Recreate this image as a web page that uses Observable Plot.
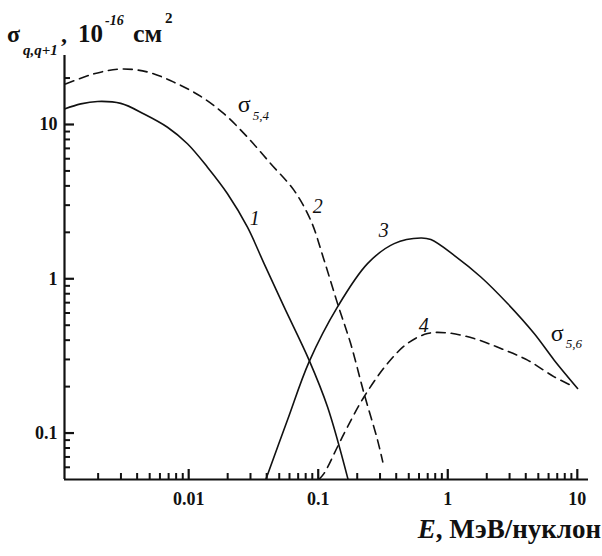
<!DOCTYPE html>
<html><head><meta charset="utf-8">
<script src="https://cdn.jsdelivr.net/npm/d3@7"></script>
<script src="https://cdn.jsdelivr.net/npm/@observablehq/plot@0.6"></script>
<style>
body{margin:0;background:#fff;}
#wrap{position:relative;width:602px;height:556px;}
</style></head><body><div id="wrap"></div>
<script>
// axis domains and tick values
const xDomain = [0.0011, 12.2];
const yDomain = [0.05, 28];
const xMajor = [0.01, 0.1, 1, 10];
const xMinor = [0.002,0.003,0.004,0.005,0.006,0.007,0.008,0.009,
  0.02,0.03,0.04,0.05,0.06,0.07,0.08,0.09,
  0.2,0.3,0.4,0.5,0.6,0.7,0.8,0.9,
  2,3,4,5,6,7,8,9];
const yMajor = [0.1, 1, 10];
const yMinor = [0.06,0.07,0.08,0.09,0.2,0.3,0.4,0.5,0.6,0.7,0.8,0.9,2,3,4,5,6,7,8,9,20];

// curve 1 (solid), sigma 5,4
const c1E = [0.0011, 0.00147, 0.00198, 0.00299, 0.00452, 0.00686, 0.00978, 0.01396, 0.01993, 0.02843, 0.0382, 0.0545, 0.085, 0.1179, 0.170];
const c1S = [12.6, 13.6, 14.1, 13.7, 11.7, 9.6, 7.5, 5.29, 3.56, 2.16, 1.254, 0.657, 0.297, 0.148, 0.05];
// curve 2 (dashed), sigma 5,4
const c2E = [0.00112, 0.00186, 0.00299, 0.0048, 0.0077, 0.0124, 0.0188, 0.0284, 0.043, 0.0651, 0.0876, 0.111, 0.141, 0.178, 0.226, 0.287, 0.315];
const c2S = [18.3, 21.3, 22.9, 21.9, 18.8, 15.2, 11.7, 8.28, 5.57, 3.74, 2.39, 1.32, 0.69, 0.38, 0.18, 0.090, 0.065];
// curve 3 (solid), sigma 5,6
const c3E = [0.0394, 0.0579, 0.085, 0.1409, 0.2401, 0.3855, 0.6194, 0.740, 1.12, 1.80, 2.894, 4.645, 6.63, 10.05];
const c3S = [0.05, 0.1214, 0.2893, 0.657, 1.254, 1.69, 1.837, 1.794, 1.419, 1.027, 0.691, 0.4418, 0.2969, 0.1947];
// curve 4 (dashed), sigma 5,6
const c4E = [0.101, 0.111, 0.1409, 0.1683, 0.226, 0.3426, 0.489, 0.698, 0.996, 1.598, 2.569, 4.13, 6.63, 9.46];
const c4S = [0.05, 0.0548, 0.0815, 0.1098, 0.1718, 0.2826, 0.381, 0.4418, 0.4458, 0.41, 0.3533, 0.2969, 0.2314, 0.1994];

// curve number labels
const numText = ["1", "2", "3", "4"];
const numE = [0.0324, 0.0992, 0.321, 0.653];
const numS = [2.46, 2.95, 2.06, 0.50];
// sigma labels
const sigSub = ["5,4", "5,6"];
const sigE = [0.0239, 6.25];
const sigS = [13.5, 0.444];

const ink = "#111";
const font = "Liberation Serif";
const W = 602, H = 556, mL = 64, mR = 14, mT = 55, mB = 77;
const frameW = W - mL - mR, frameH = H - mT - mB;
const rows = (E, S) => E.map((e, i) => ({e, s: S[i]}));

const plot = Plot.plot({
  width: W, height: H,
  marginLeft: mL, marginRight: mR, marginTop: mT, marginBottom: mB,
  x: {type: "log", domain: xDomain, label: null},
  y: {type: "log", domain: yDomain, label: null},
  style: {fontFamily: font, background: "transparent", color: ink},
  marks: [
    Plot.ruleY([yDomain[0]], {stroke: ink, strokeWidth: 2.2}),
    Plot.ruleX([xDomain[0]], {stroke: ink, strokeWidth: 2.2}),
    Plot.tickX(xMinor, {x: d => d, insetTop: frameH - 6, stroke: ink, strokeWidth: 2}),
    Plot.tickX(xMajor, {x: d => d, insetTop: frameH - 10, stroke: ink, strokeWidth: 2.2}),
    Plot.tickY(yMinor, {y: d => d, insetRight: frameW - 6, stroke: ink, strokeWidth: 2}),
    Plot.tickY(yMajor, {y: d => d, insetRight: frameW - 10, stroke: ink, strokeWidth: 2.2}),
    Plot.axisX(xMajor, {tickSize: 0, tickPadding: 13, fontSize: 18, fontWeight: "bold", fill: ink, tickFormat: d => String(d), label: null}),
    Plot.axisY(yMajor, {tickSize: 0, tickPadding: 7, fontSize: 18, fontWeight: "bold", fill: ink, tickFormat: d => String(d), label: null}),
    Plot.line(rows(c1E, c1S), {x: "e", y: "s", stroke: ink, strokeWidth: 1.6, curve: "catmull-rom", clip: true}),
    Plot.line(rows(c2E, c2S), {x: "e", y: "s", stroke: ink, strokeWidth: 1.6, strokeDasharray: "9,6", curve: "catmull-rom", clip: true}),
    Plot.line(rows(c3E, c3S), {x: "e", y: "s", stroke: ink, strokeWidth: 1.6, curve: "catmull-rom", clip: true}),
    Plot.line(rows(c4E, c4S), {x: "e", y: "s", stroke: ink, strokeWidth: 1.6, strokeDasharray: "9,6", curve: "catmull-rom", clip: true}),
    Plot.text(numText, {x: (d, i) => numE[i], y: (d, i) => numS[i], text: d => d, fontSize: 20, fontStyle: "italic", fill: ink}),
    Plot.text(sigSub, {x: (d, i) => sigE[i], y: (d, i) => sigS[i], text: () => "σ", textAnchor: "start", fontSize: 24, fill: ink}),
    Plot.text(sigSub, {x: (d, i) => sigE[i], y: (d, i) => sigS[i], text: d => d, textAnchor: "start", dx: 15, dy: 11, fontSize: 13, fontStyle: "italic", fill: ink})
  ]
});
document.getElementById("wrap").appendChild(plot);

// axis titles as SVG text (baseline-positioned)
const svg = d3.select(plot);
const titleParts = [
  {t: "σ", x: 7, y: 42, s: 24, st: "normal"},
  {t: "q,q+1", x: 23, y: 55, s: 15, st: "italic"},
  {t: ",", x: 61, y: 42, s: 24, st: "normal"},
  {t: "10", x: 78, y: 42, s: 25, st: "normal"},
  {t: "-16", x: 105, y: 25, s: 14, st: "italic"},
  {t: "см", x: 133, y: 42, s: 26, st: "normal"},
  {t: "2", x: 165, y: 23, s: 15, st: "normal"}
];
svg.append("g").selectAll("text").data(titleParts).join("text")
  .attr("x", d => d.x).attr("y", d => d.y).attr("text-anchor", "start")
  .attr("font-family", font).attr("font-weight", "bold")
  .attr("font-size", d => d.s).attr("font-style", d => d.st)
  .attr("fill", ink).text(d => d.t);

const xl = svg.append("text")
  .attr("x", 601).attr("y", 538).attr("text-anchor", "end")
  .attr("font-family", font).attr("font-weight", "bold").attr("font-size", 27)
  .attr("fill", ink);
xl.append("tspan").attr("font-style", "italic").text("E");
xl.append("tspan").text(", МэВ/нуклон");
</script></body></html>
